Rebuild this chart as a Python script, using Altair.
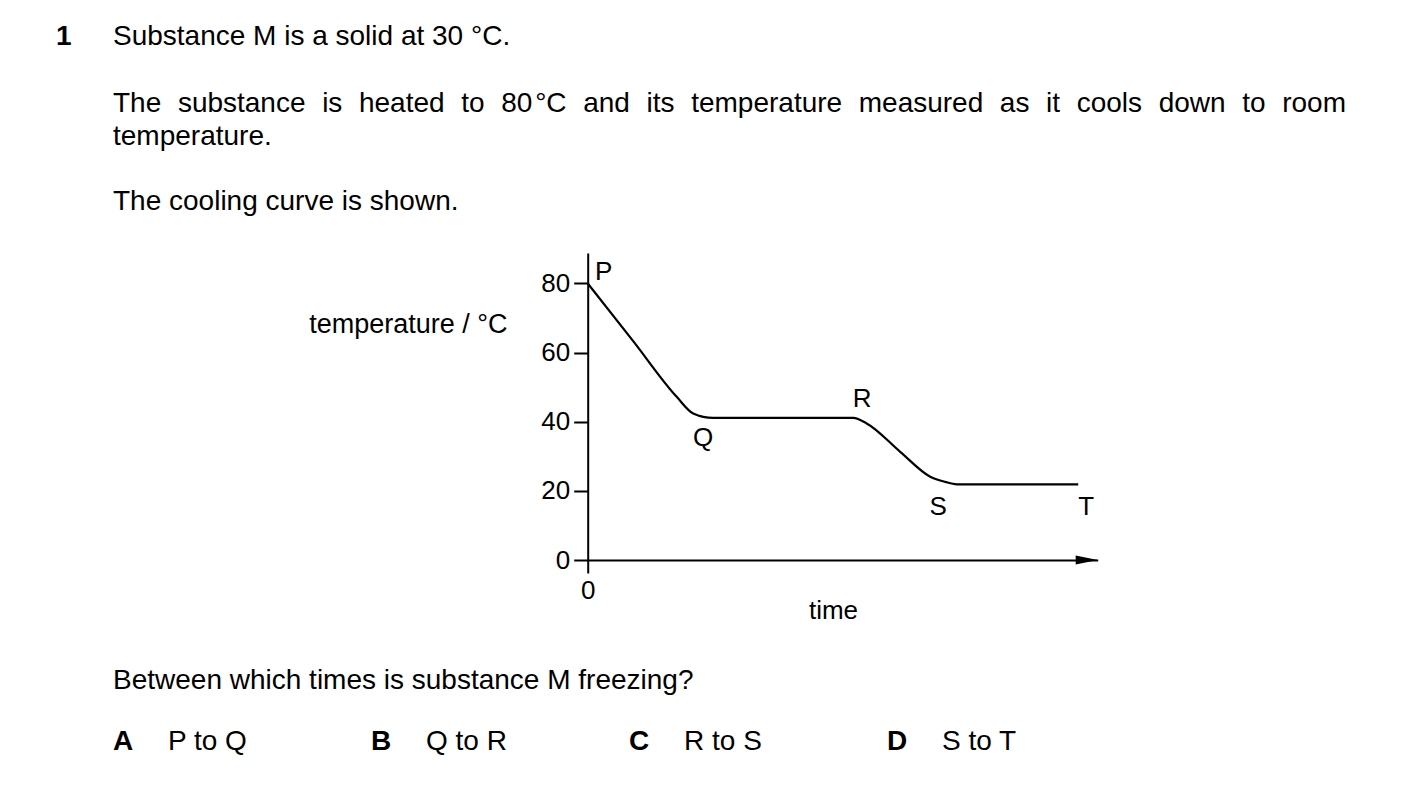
import altair as alt
import pandas as pd

FONT = "Liberation Sans"

# cooling curve (time in arbitrary units, temperature in °C)
time_vals = [0, 9.1, 17.8, 21.1, 25.1, 53.1, 55.8, 62.5, 68.5, 71.5, 73.8, 98.1]
temp_vals = [80, 63.3, 47.2, 42.4, 41.1, 41.1, 39.5, 31.3, 24.1, 22.6, 21.9, 21.9]

# point labels on the curve
point_labels = ["P", "Q", "R", "S", "T"]
label_time = [3.2, 23.1, 54.9, 70.1, 99.7]
label_temp = [83.3, 35.3, 46.6, 15.3, 15.3]

y_ticks = [0, 20, 40, 60, 80]
x_ticks = [0]

# question text
q_number = "1"
line1 = "Substance M is a solid at 30 °C."
line2_words = ["The", "substance", "is", "heated", "to", "80 °C", "and", "its",
               "temperature", "measured", "as", "it", "cools", "down", "to", "room"]
line3 = "temperature."
line4 = "The cooling curve is shown."
question = "Between which times is substance M freezing?"
option_letters = ["A", "B", "C", "D"]
option_texts = ["P to Q", "Q to R", "R to S", "S to T"]

# layout (page pixels)
OX, OY = 587.7, 253.0
W, H = 510, 307
BODY = 28
LINE_L, LINE_R = 113, 1346
opt_letter_x = [113, 371, 629, 887]
opt_text_x = [168, 426, 684, 942]

# Arial / Liberation Sans advance widths (per 1000 em), for justifying line 2
ADV = {"T": 611, "h": 556, "e": 556, "s": 500, "u": 556, "b": 556, "t": 278, "a": 556,
       "n": 556, "c": 500, "i": 222, "d": 556, "o": 556, "8": 556, "0": 556, "°": 400,
       "C": 722, "m": 833, "p": 556, "r": 333, "l": 222, "w": 722, " ": 100}


def wwidth(w):
    return sum(ADV.get(ch, 556) for ch in w) * BODY / 1000.0


widths = [wwidth(w) for w in line2_words]
gap = (LINE_R - LINE_L - sum(widths)) / (len(line2_words) - 1)
line2_x = []
pos = LINE_L
for wd in widths:
    line2_x.append(pos)
    pos += wd + gap

curve = pd.DataFrame({"time": time_vals, "temp": temp_vals})
labels = pd.DataFrame({"lab": point_labels, "time": label_time, "temp": label_temp})

xscale = alt.Scale(domain=[0, 102], nice=False, zero=False)
yscale = alt.Scale(domain=[0, 88.8], nice=False, zero=False)

xaxis = alt.Axis(values=x_ticks, title="time", tickSize=13, grid=False, labelFlush=False,
                 domainColor="black", tickColor="black", domainWidth=2, tickWidth=2,
                 labelFont=FONT, labelFontSize=26, labelColor="black", labelPadding=4,
                 titleFont=FONT, titleFontSize=26, titleFontWeight="normal", titleColor="black",
                 titleX=833 - OX, titleY=610 - 560, titleAlign="center", titleBaseline="middle")
yaxis = alt.Axis(values=y_ticks, title="temperature / °C", tickSize=14, grid=False, labelFlush=False,
                 domainColor="black", tickColor="black", domainWidth=2, tickWidth=2,
                 labelFont=FONT, labelFontSize=26, labelColor="black", labelPadding=4,
                 titleFont=FONT, titleFontSize=27, titleFontWeight="normal", titleColor="black",
                 titleAngle=0, titleX=507 - OX, titleY=324 - OY, titleAlign="right",
                 titleBaseline="middle")

line = alt.Chart(curve).mark_line(interpolate="monotone", color="black", strokeWidth=2.2).encode(
    x=alt.X("time:Q", scale=xscale, axis=xaxis),
    y=alt.Y("temp:Q", scale=yscale, axis=yaxis),
)

lab = alt.Chart(labels).mark_text(font=FONT, fontSize=26, color="black", baseline="middle",
                                  align="center").encode(
    x=alt.X("time:Q", scale=xscale),
    y=alt.Y("temp:Q", scale=yscale),
    text="lab:N",
)

arrow = alt.Chart(pd.DataFrame({"a": [0]})).mark_point(
    shape="M -1 -0.42 L 1 0 L -1 0.42 Z", size=484, filled=True, color="black",
    opacity=1, strokeWidth=0).encode(x=alt.value(W - 11), y=alt.value(H))


def txt(s, X, Y, size=BODY, bold=False, align="left"):
    return alt.Chart(pd.DataFrame({"t": [s]})).mark_text(
        font=FONT, fontSize=size, fontWeight="bold" if bold else "normal",
        color="black", align=align, baseline="middle").encode(
        x=alt.value(X - OX), y=alt.value(Y - OY), text="t:N")


texts = [txt(q_number, 56, 37, bold=True), txt(line1, 113, 37)]
for w, x in zip(line2_words, line2_x):
    if " " in w:
        a, b = w.split(" ")
        texts.append(txt(a, x, 104))
        texts.append(txt(b, x + wwidth(a) + ADV[" "] * BODY / 1000.0, 104))
    else:
        texts.append(txt(w, x, 104))
texts.append(txt(line3, 113, 137))
texts.append(txt(line4, 113, 202))
texts.append(txt(question, 113, 681))
for L, lx, T, tx in zip(option_letters, opt_letter_x, option_texts, opt_text_x):
    texts.append(txt(L, lx, 742, bold=True))
    texts.append(txt(T, tx, 742))

chart = alt.layer(line, lab, arrow, *texts).properties(
    width=W, height=H,
    autosize=alt.AutoSizeParams(type="none"),
    padding={"left": OX - 8, "top": OY - 8, "right": 1387 - (OX - 8) - W, "bottom": 788 - (OY - 8) - H},
    background="white",
).configure_view(stroke=None)

chart.save("out.html", embed_options={"renderer": "svg", "actions": False})
